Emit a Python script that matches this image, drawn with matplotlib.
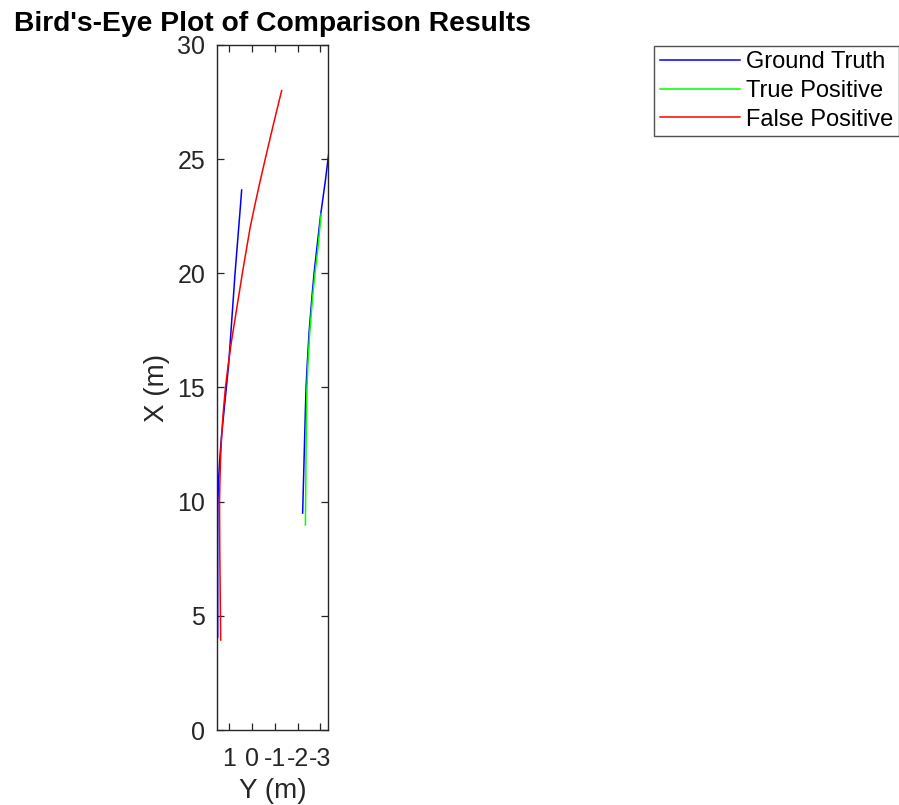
import matplotlib
matplotlib.use("Agg")
import matplotlib.pyplot as plt
import numpy as np #import several libraries

plt.rcParams['font.family'] = ['Liberation Sans', 'DejaVu Sans'] #arial-like font
plt.rcParams['axes.unicode_minus'] = False #plain hyphen minus like the original

# ground truth track near the left (X forward, Y lateral)
gt1_x = [4.07, 6, 8, 10, 11, 12, 13, 14, 15, 16, 17, 18, 19, 20, 21, 22, 23, 23.65]
gt1_y = [1.50, 1.50, 1.50, 1.49, 1.46, 1.40, 1.32, 1.22, 1.12, 1.02, 0.95, 0.88, 0.81, 0.74, 0.66, 0.58, 0.50, 0.45]
# ground truth track on the right
gt2_x = [9.5, 11, 12.5, 14, 15, 16, 17.4, 19, 20, 21, 22.5, 24.1, 25.4]
gt2_y = [-2.22, -2.26, -2.30, -2.34, -2.37, -2.42, -2.50, -2.63, -2.72, -2.83, -3.0, -3.22, -3.38]
# true positive track
tp_x = [8.98, 10, 11, 12.5, 14, 15, 16, 17.4, 19, 20, 21, 22.6]
tp_y = [-2.34, -2.35, -2.36, -2.37, -2.39, -2.41, -2.45, -2.53, -2.66, -2.76, -2.88, -3.03]
# false positive track
fp_x = [3.94, 6, 8, 10, 11, 12, 13, 14, 15, 16, 17, 18, 19, 20, 21, 22, 23, 24, 25, 26, 27, 28]
fp_y = [1.37, 1.39, 1.41, 1.42, 1.40, 1.37, 1.32, 1.25, 1.16, 1.04, 0.90, 0.74, 0.58, 0.42, 0.25, 0.08,
        -0.13, -0.35, -0.58, -0.815, -1.055, -1.30]

x_ticks = [0, 5, 10, 15, 20, 25, 30]
y_ticks = [1, 0, -1, -2, -3]

dark = "#262626"
fig = plt.figure(figsize=(8.99, 8.05), dpi=100)
ax = fig.add_axes([217/899, 75/805, 111/899, 685/805]) #tall narrow axes like bird's-eye plot

ax.plot(gt1_y, gt1_x, color=(0, 0, 1), lw=1.1, label="Ground Truth", zorder=3)
ax.plot(gt2_y, gt2_x, color=(0, 0, 1), lw=1.1, zorder=3)
ax.plot(tp_y, tp_x, color=(0, 1, 0), lw=1.1, label="True Positive", zorder=3)
ax.plot(fp_y, fp_x, color=(1, 0, 0), lw=1.1, label="False Positive", zorder=3)

ax.set_xlim(1.53, -3.33) #Y axis points left, so reversed
ax.set_ylim(0, 30)
ax.set_xticks(y_ticks)
ax.set_yticks(x_ticks)
ax.tick_params(direction="in", length=5, width=0.9, top=True, right=True, labelsize=18, colors=dark)
ax.tick_params(axis="y", pad=8.5)
ax.tick_params(axis="x", pad=12)
for s in ax.spines.values():
    s.set_color(dark)
    s.set_linewidth(1.0)

ax.set_xlabel("Y (m)", fontsize=20, color=dark, labelpad=5)
ax.set_ylabel("X (m)", fontsize=20, color=dark, labelpad=5)
ax.set_title("Bird's-Eye Plot of Comparison Results", fontsize=20.3, fontweight="bold", pad=10)

leg = fig.legend(loc="upper left", bbox_to_anchor=(654/899, 1 - 45.7/805), fontsize=17,
                 frameon=True, fancybox=False, borderaxespad=0, borderpad=0.24,
                 handlelength=3.4, handletextpad=0.25, labelspacing=0.28)
leg.get_frame().set_edgecolor(dark)
leg.get_frame().set_linewidth(1.0)

plt.savefig("out.png", dpi=100) #save the figure
